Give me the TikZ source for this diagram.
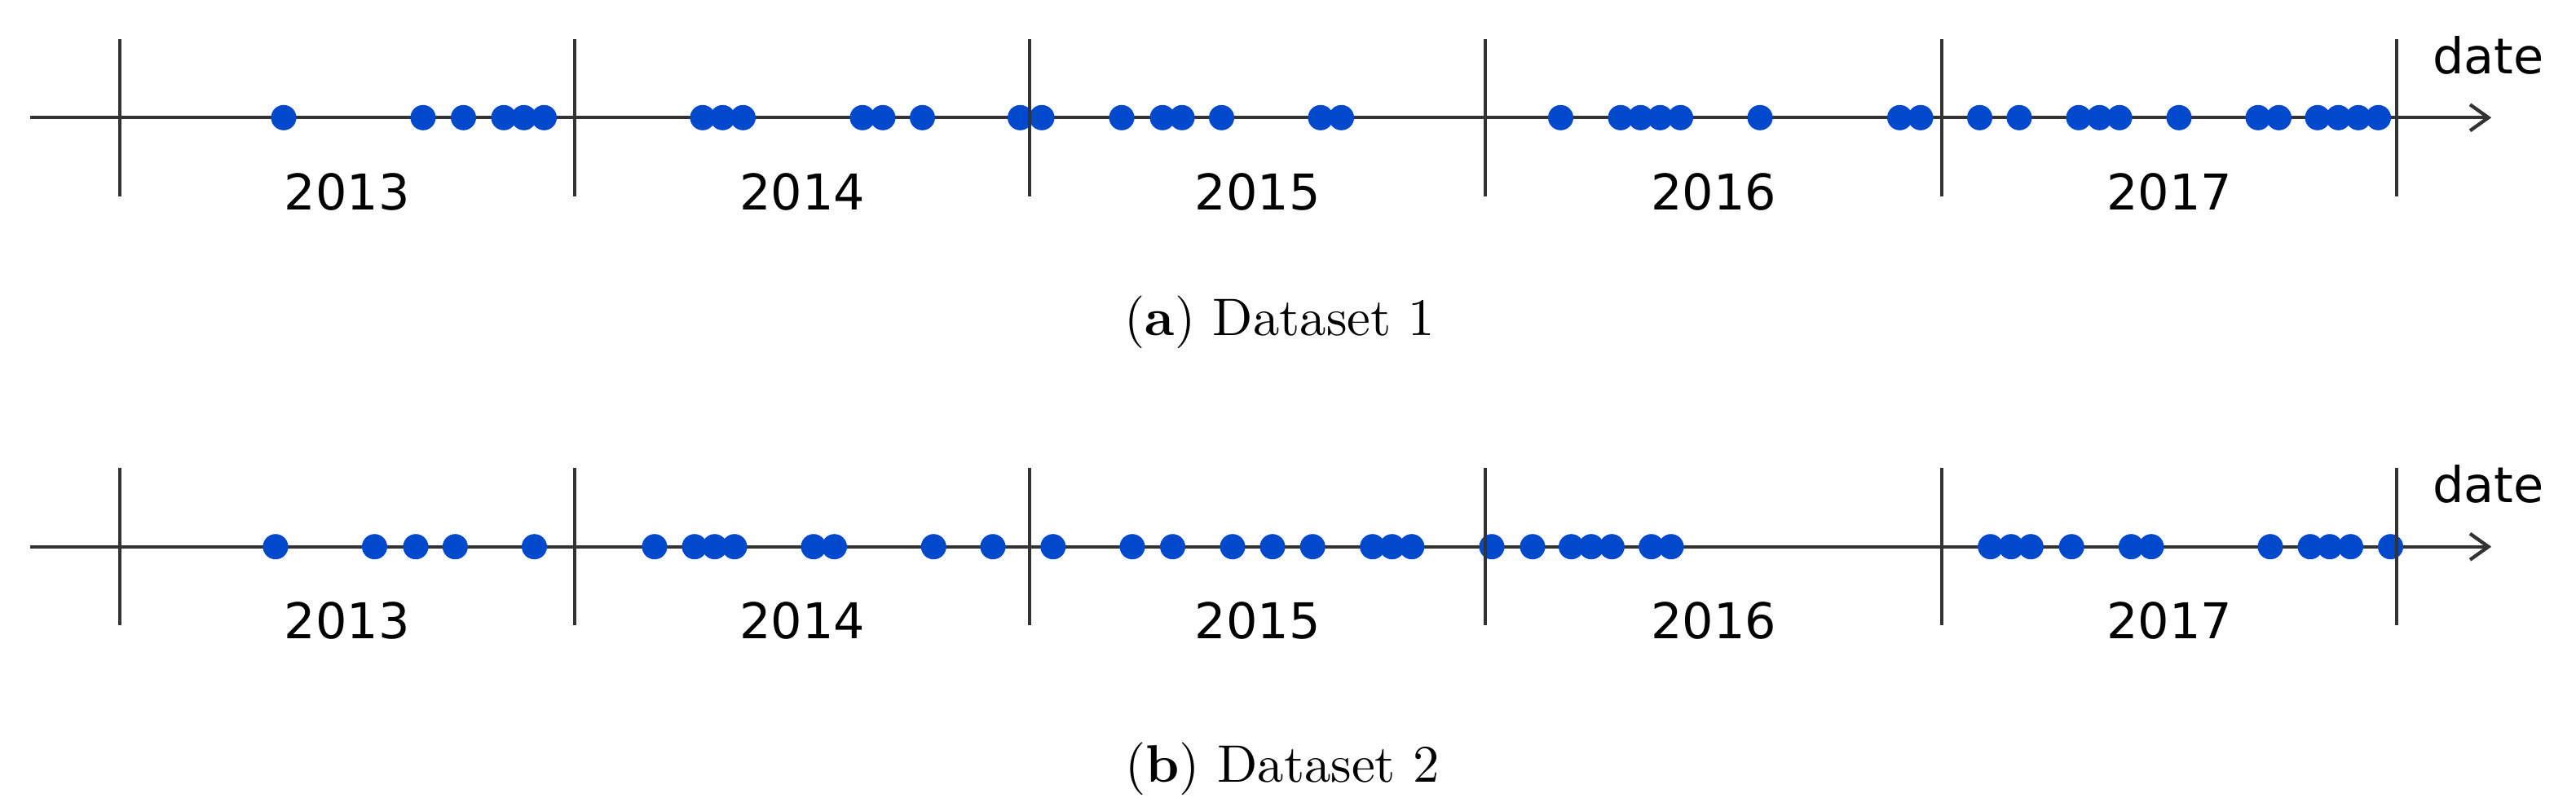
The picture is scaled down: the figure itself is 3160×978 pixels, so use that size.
\documentclass[tikz,border=0pt]{standalone}
\usepackage{fontspec}
\newfontfamily\dvsans{DejaVu Sans}
\newfontfamily\capfont{lmroman10-regular}[Extension=.otf,BoldFont=lmroman10-bold]
\definecolor{dotblue}{RGB}{0,72,204}
\definecolor{axisgray}{RGB}{51,51,51}
\newcommand\drawtimeline[3]{%
  % #1 = row name, #2 = axis y (px), #3 = list of dot x (px)
  \coordinate (#1-start) at (36.5,#2);
  \coordinate (#1-end) at (3052.5,#2);
  \draw[axisline] (#1-start) -- (#1-end);
  \draw[axisline,line join=miter] (3030,{#2-16}) -- (#1-end) -- (3030,{#2+16});
  \foreach \d in {#3} {\fill[dotblue] (\d,#2) circle[radius=0.155cm];}
  \foreach \t in {146.6,705,1263.3,1822.4,2381.9,2940.3}
    {\draw[tickline] (\t,{#2-96.6}) -- (\t,{#2+96.6});}
  \foreach \xm/\yr in {425.8/2013,984.2/2014,1542.9/2015,2102.2/2016,2661.1/2017}
    {\node[yearlabel] (#1-\yr) at (\xm,{#2+112.7}) {\yr};}
  \node[yearlabel] (#1-date) at (3052.5,{#2-54.3}) {date};
}
\begin{document}
\begin{tikzpicture}[x=0.01cm,y=-0.01cm,
  axisline/.style={draw=axisgray,line width=1.22pt},
  tickline/.style={draw=axisgray,line width=1.15pt},
  yearlabel/.style={font=\dvsans\fontsize{17.2}{20}\selectfont,anchor=base,inner sep=0pt},
  captionlabel/.style={font=\capfont\fontsize{18.4}{22}\selectfont,anchor=base,inner sep=0pt}]
\useasboundingbox (0,0) rectangle (3160,978);
\drawtimeline{r1}{144.3}{348,519,568.5,618,642.7,667.5,862,886.5,911.5,1058,1083,1131.5,1251.5,1278,1376,1426,1450,1498.5,1620,1645.5,1914.5,1988,2012.5,2036.5,2061.5,2159,2330.5,2356,2428.5,2477,2550,2575.5,2600,2673,2770,2795.5,2843,2868.5,2893,2917.5}
\drawtimeline{r2}{670.7}{338,459.5,510,558.4,655.5,803,852,876.7,901,998,1023.5,1145.3,1218,1291.8,1389,1438.5,1512,1561,1610.2,1683.7,1707.7,1731.8,1830,1880,1927.5,1952,1977.3,2025.7,2050,2441.7,2467,2491.3,2541.2,2614.3,2639,2785,2834,2858,2883.5,2932.5}
\node[captionlabel] (capa) at (1570,411.7) {(\textbf{a}) Dataset 1};
\node[captionlabel] (capb) at (1573,959) {(\textbf{b}) Dataset 2};
\end{tikzpicture}
\end{document}
